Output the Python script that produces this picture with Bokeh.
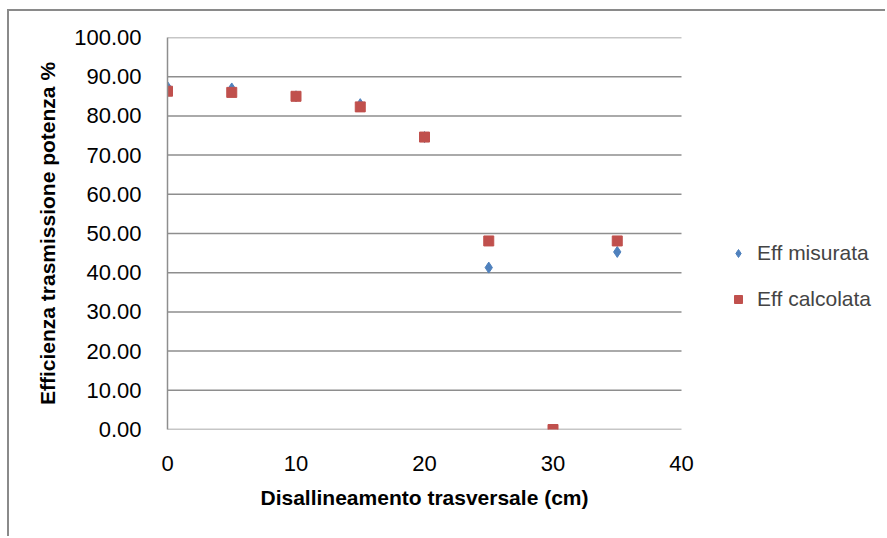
from bokeh.plotting import figure
from bokeh.models import Range1d, NumeralTickFormatter, FixedTicker, Legend, LegendItem, Title
from bokeh.embed import file_html
from bokeh.resources import INLINE

# data
x_misurata = [0, 5, 10, 15, 20, 25, 35]
eff_misurata = [87.4, 87.0, 85.0, 83.0, 74.6, 41.3, 45.3]
x_calcolata = [0, 5, 10, 15, 20, 25, 30, 35]
eff_calcolata = [86.3, 86.0, 85.0, 82.3, 74.6, 48.1, 0.0, 48.1]
x_ticks = [0, 10, 20, 30, 40]
y_ticks = [0, 10, 20, 30, 40, 50, 60, 70, 80, 90, 100]
x_min, x_max = 0, 40

FONT = "Liberation Sans"
GRID = "#8e8e8e"

# plot area spans page x 167..681 for 0..40; frame extended to page edge (887)
# so that the legend beside the plot area is not clipped
x_end = x_max * (887 - 167) / (681 - 167)

p = figure(width=878, height=527, output_backend="svg", toolbar_location=None,
           x_range=Range1d(x_min, x_end), y_range=Range1d(0, 100),
           min_border_left=158, min_border_right=0, min_border_top=26, min_border_bottom=109)
p.margin = (9, 0, 0, 7)
p.styles = {"border-top": "2px solid #8a8a8a", "border-left": "2px solid #8a8a8a"}
p.outline_line_color = None
p.background_fill_color = "white"
p.border_fill_color = "white"

# horizontal gridlines, limited to the plot area
p.segment(x0=[x_min] * len(y_ticks), x1=[x_max] * len(y_ticks), y0=y_ticks, y1=y_ticks,
          line_color=GRID, line_width=1.5)

r1 = p.scatter(x_misurata, eff_misurata, marker="diamond", size=11, color="#4F81BD")
r2 = p.scatter(x_calcolata, eff_calcolata, marker="square", size=10, color="#C0504D")

p.xgrid.visible = False
p.ygrid.visible = False

p.xaxis.ticker = FixedTicker(ticks=x_ticks)
p.yaxis.ticker = FixedTicker(ticks=y_ticks)
p.yaxis.formatter = NumeralTickFormatter(format="0.00")
for ax in (p.xaxis, p.yaxis):
    ax.axis_line_color = GRID
    ax.axis_line_width = 1.5
    ax.major_tick_line_color = None
    ax.minor_tick_line_color = None
    ax.major_label_text_font = FONT
    ax.major_label_text_font_size = "22px"
    ax.major_label_text_color = "black"
    ax.axis_label_text_font = FONT
    ax.axis_label_text_font_style = "bold"
    ax.axis_label_text_font_size = "21px"
    ax.axis_label_text_color = "black"
p.xaxis.axis_line_color = None
p.xaxis.major_label_standoff = 20
p.yaxis.major_label_standoff = 20
p.yaxis.axis_label = "Efficienza trasmissione potenza %"
p.yaxis.axis_label_standoff = 12

# x-axis title, centred under the plot area (0..40) rather than the extended frame
p.add_layout(Title(text="Disallineamento trasversale (cm)", align="left", offset=93,
                   text_font=FONT, text_font_style="bold", text_font_size="21px",
                   text_color="black", standoff=20), "below")

legend = Legend(items=[LegendItem(label="Eff misurata", renderers=[r1]),
                       LegendItem(label="Eff calcolata", renderers=[r2])],
                location=(561, 118), orientation="vertical",
                label_text_font=FONT, label_text_font_size="21px",
                glyph_width=20, glyph_height=20, label_height=20, label_standoff=9,
                spacing=22, padding=0, margin=0, border_line_color=None,
                background_fill_alpha=0)
p.add_layout(legend, "center")

open("out.html", "w").write(file_html(p, INLINE))
